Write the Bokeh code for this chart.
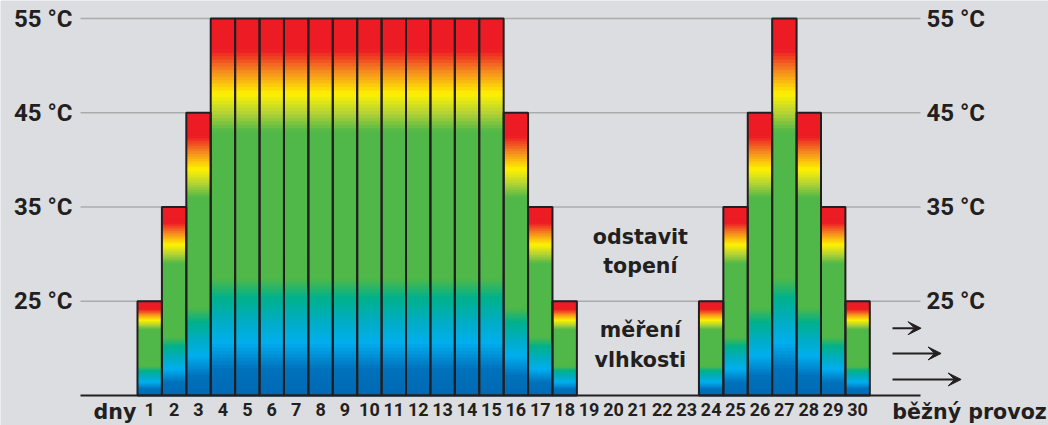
import numpy as np
from bokeh.plotting import figure
from bokeh.models import (Range1d, LinearAxis, FixedTicker, Arrow, VeeHead)
from bokeh.core.properties import value
from bokeh.embed import file_html
from bokeh.resources import INLINE

# ---------------- data ----------------
days = list(range(1, 31))
temps = [25, 35, 45, 55, 55, 55, 55, 55, 55, 55, 55, 55, 55, 55, 55, 45, 35, 25,
         None, None, None, None, None,
         25, 35, 45, 55, 45, 35, 25]
day_labels = [str(d) for d in days]
base_temp = 15
y_ticks = [25, 35, 45, 55]
y_tick_labels = ["25 °C", "35 °C", "45 °C", "55 °C"]
note_texts = ["odstavit", "topení", "měření", "vlhkosti"]
note_y = [31.87, 28.74, 21.93, 18.75]
note_x = 21.1
side_words = ["dny", "běžný provoz"]
side_x = [-1.30, 31.42]
side_y = [13.30, 13.30]
arrow_start = 31.43
arrow_ends = [32.60, 33.42, 34.24]
arrow_y = [22.14, 19.46, 16.70]

# ---------------- layout / style ----------------
X_LO, X_HI = -1.835, 32.576      # extent of grid / baseline (chart area)
BG = "#dcdde0"
INK = "#231f20"
GRID = "#ababab"
grad_f = [0.0, 0.085, 0.14, 0.20, 0.25, 0.30, 0.69, 0.74, 0.80, 0.86, 0.93, 1.0]
grad_c = ["#ed1c24", "#ed1c24", "#f58a1f", "#fff200", "#b5d334", "#50b848",
          "#50b848", "#00b18a", "#00adc0", "#00aeef", "#0072bc", "#0068b3"]

def hex2rgb(h):
    h = h.lstrip("#")
    return [int(h[i:i + 2], 16) for i in (0, 2, 4)]

rgb = np.array([hex2rgb(c) for c in grad_c], dtype=float)
N = 110
fr = np.linspace(0, 1, N + 1)
mid = (fr[:-1] + fr[1:]) / 2
cols = []
for m in mid:
    r = np.interp(m, grad_f, rgb[:, 0])
    g = np.interp(m, grad_f, rgb[:, 1])
    b = np.interp(m, grad_f, rgb[:, 2])
    cols.append("#%02x%02x%02x" % (int(round(r)), int(round(g)), int(round(b))))

# each slice runs from its own top down to the bar bottom; later slices
# overdraw the lower part, which avoids seams between slices
sl_left, sl_right, sl_top, sl_bot, sl_col = [], [], [], [], []
ol_left, ol_right, ol_top, ol_bot = [], [], [], []
for d, t in zip(days, temps):
    if t is None:
        continue
    h = t - base_temp
    for i in range(N):
        sl_left.append(d - 0.5)
        sl_right.append(d + 0.5)
        sl_top.append(t - fr[i] * h)
        sl_bot.append(base_temp)
        sl_col.append(cols[i])
    ol_left.append(d - 0.5)
    ol_right.append(d + 0.5)
    ol_top.append(t)
    ol_bot.append(base_temp)

# ---------------- figure ----------------
p = figure(width=1048, height=425,
           x_range=Range1d(-5.112, 37.82), y_range=Range1d(11.817, 56.91),
           output_backend="svg", toolbar_location=None,
           x_axis_location=None, y_axis_location=None,
           min_border_left=0, min_border_right=0,
           min_border_top=0, min_border_bottom=0)
p.background_fill_color = BG
p.border_fill_color = BG
p.outline_line_color = None
p.xgrid.visible = False
p.ygrid.visible = False

# horizontal guide lines at the y ticks
p.segment(x0=[X_LO] * len(y_ticks), x1=[X_HI] * len(y_ticks), y0=y_ticks, y1=y_ticks,
          line_color=GRID, line_width=1.5)

# bars with vertical colour gradient
p.quad(left=sl_left, right=sl_right, top=sl_top, bottom=sl_bot,
       fill_color=sl_col, line_color=None)
p.quad(left=ol_left, right=ol_right, top=ol_top, bottom=ol_bot,
       fill_color=None, line_color=INK, line_width=2)

# axes
for side, loc, standoff in (("left", X_LO, 8), ("right", X_HI, 6)):
    ax = LinearAxis(ticker=FixedTicker(ticks=y_ticks), fixed_location=loc,
                    major_label_overrides=dict(zip(y_ticks, y_tick_labels)),
                    axis_line_color=None, major_tick_line_color=None,
                    minor_tick_line_color=None, major_tick_in=0, major_tick_out=0,
                    major_label_standoff=standoff,
                    major_label_text_font="Roboto",
                    major_label_text_font_style="bold",
                    major_label_text_font_size="24px",
                    major_label_text_color=INK)
    p.add_layout(ax, side)

xax = LinearAxis(ticker=FixedTicker(ticks=days), fixed_location=base_temp,
                 bounds=(X_LO, X_HI),
                 major_label_overrides=dict(zip(days, day_labels)),
                 axis_line_color=INK, axis_line_width=2,
                 major_tick_line_color=None, minor_tick_line_color=None,
                 major_tick_in=0, major_tick_out=0,
                 major_label_standoff=7,
                 major_label_text_font="Roboto",
                 major_label_text_font_style="bold",
                 major_label_text_font_size="18px",
                 major_label_text_color=INK)
p.add_layout(xax, "below")

p.text(x=[note_x] * len(note_texts), y=note_y, text=note_texts,
       text_align="center", text_baseline="alphabetic",
       text_font=value("DejaVu Sans"), text_font_style="bold", text_font_size="20.6px",
       text_color=INK)

p.text(x=side_x, y=side_y, text=side_words,
       text_align="left", text_baseline="alphabetic",
       text_font=value("DejaVu Sans"), text_font_style="bold", text_font_size="20.6px",
       text_color=INK)

for xe, ya in zip(arrow_ends, arrow_y):
    p.add_layout(Arrow(end=VeeHead(size=13, fill_color=INK, line_color=INK, line_width=1),
                       x_start=arrow_start, y_start=ya, x_end=xe, y_end=ya,
                       line_color=INK, line_width=2))

open("out.html", "w").write(file_html(p, INLINE))
